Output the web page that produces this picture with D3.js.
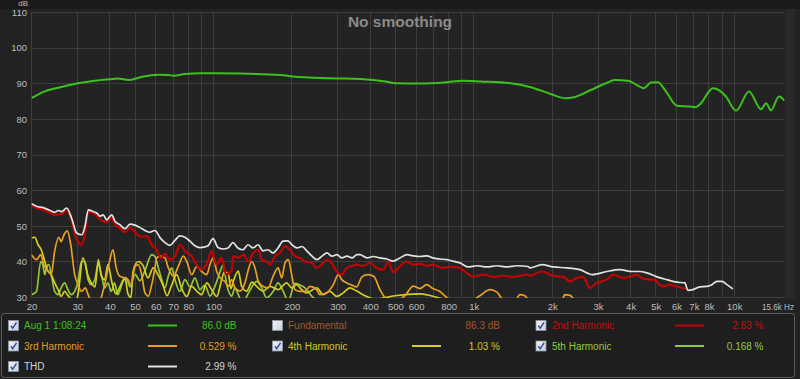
<!DOCTYPE html>
<html><head><meta charset="utf-8">
<script src="https://cdn.jsdelivr.net/npm/d3@7"></script>
<style>html,body{margin:0;padding:0;background:#222;overflow:hidden}svg{display:block;font-family:"Liberation Sans",Arial,sans-serif}</style>
</head><body><svg id="c" width="800" height="379"></svg>
<script>
// ---------- data (frequency Hz, level dB) ----------
const measurement = [[20,85.9],[22.5,87.8],[25.8,89.0],[30.2,90.1],[35.1,90.8],[40,91.2],[43,91.4],[47.3,91.0],[52.4,91.8],[61.3,92.5],[67,92.4],[70.6,92.2],[77.8,92.7],[89,92.9],[127,92.8],[181,92.4],[201,92.0],[281,91.5],[367,91.3],[458,90.6],[500,90.1],[624,90.0],[815,90.5],[906,90.8],[1062,90.6],[1385,90.1],[1653,89.0],[1973,87.1],[2254,85.9],[2398,86.1],[2813,88.2],[3213,90.1],[3480,91.0],[3903,90.8],[4379,89.0],[4500,88.7],[4785,90.3],[5093,90.4],[5467,87.8],[6029,83.8],[6700,83.6],[7129,83.4],[7450,84.5],[8280,88.7],[8730,88.2],[9290,86.4],[10160,82.4],[11400,87.8],[12680,82.8],[13250,84.5],[13840,82.5],[14860,86.4],[15600,85.2]];

const thd = [[20,56.3],[20.9,55.6],[22.2,55.2],[23.6,54.4],[24.6,53.9],[25.35,54.4],[26.1,54.1],[27.3,55.1],[28.5,52.3],[29.8,48.1],[31.2,47.6],[32.1,50.0],[33.05,54.6],[34.55,54.1],[35.6,53.7],[36.65,52.8],[37.7,53.2],[38.9,51.8],[40.65,53.2],[41.85,51.4],[43.7,50.4],[45.7,49.3],[47.8,50.6],[49.95,50.3],[52.2,49.6],[54.55,48.8],[57.0,48.3],[59.6,48.8],[62.3,46.8],[65.1,45.4],[68.0,44.6],[71.1,46.0],[74.3,47.3],[77.7,46.9],[81.2,45.8],[84.9,44.5],[88.7,44.0],[92.7,44.2],[95.3,44.5],[99.6,46.5],[104.1,44.0],[108.7,43.6],[113.7,43.9],[118.8,45.4],[124.1,43.9],[129.8,43.4],[135.7,44.8],[141.8,43.9],[148.3,44.8],[155,43.1],[162,43.4],[169.2,42.5],[176.9,43.9],[185,45.8],[193.2,45.9],[200.2,44.8],[209.2,43.9],[218.7,44.3],[228.6,43.0],[239,41.6],[249.7,40.6],[261,41.6],[272.8,42.5],[285.2,41.6],[298,42.0],[311.5,41.1],[325.5,41.6],[340.3,41.1],[355.7,42.0],[365.1,42.0],[388.5,41.1],[409.7,41.5],[435.8,41.1],[463.7,40.8],[489,40.2],[520,41.1],[553,42.0],[583.5,41.7],[620.5,41.5],[660.4,41.7],[696.4,41.1],[740.7,40.8],[788,40.6],[831,40.2],[884,39.7],[949,38.6],[1028,38.9],[1123,38.6],[1226,38.9],[1340,38.6],[1464,38.9],[1613,38.7],[1642,38.3],[1826,39.2],[2013,38.6],[2278,38.3],[2554,37.8],[2854,36.4],[3244,37.3],[3638,37.8],[4047,37.3],[4342,37.3],[4620,36.9],[5047,35.8],[5514,35.0],[6025,34.3],[6466,34.1],[6639,32.0],[6939,32.2],[7381,33.0],[7855,33.1],[8210,33.6],[8581,34.5],[8970,34.5],[9375,33.6],[9886,32.4]];

const harmonic2 = [[20,55.7],[20.9,55.1],[22.2,54.6],[23.6,53.7],[24.6,53.2],[26.1,53.5],[27.3,54.4],[28.5,51.8],[29.8,46.2],[31.2,44.8],[32.1,48.1],[33.05,54.1],[34.55,53.7],[36.65,52.0],[38.9,51.1],[40.65,52.6],[41.85,50.4],[43.7,49.5],[45.7,48.3],[47.8,49.6],[50.7,47.8],[53.0,47.0],[55.4,47.2],[57.9,44.8],[60.5,43.4],[62.9,41.0],[65.1,42.3],[68.0,40.6],[71.1,41.5],[74.3,44.8],[77.7,43.0],[82.5,41.5],[86.2,39.2],[90.1,37.8],[94.2,39.5],[98.4,43.0],[102.9,39.2],[107.5,41.1],[111.7,36.5],[117.4,37.5],[119.1,41.6],[124.5,41.1],[130.2,42.0],[136.1,40.1],[142.2,42.5],[148.7,43.4],[153.2,40.6],[160.1,40.1],[164.8,39.2],[172.2,41.6],[180.0,42.5],[188.2,44.4],[196.6,43.4],[205.5,41.6],[214.8,41.1],[224.5,40.1],[238.3,39.7],[249.0,38.3],[260.4,39.2],[272.1,40.6],[284.4,39.7],[297.3,37.3],[310.7,36.4],[324.7,38.3],[339.4,38.8],[354.7,39.2],[376,38.9],[398.9,39.7],[423.4,38.3],[448.8,37.8],[469,40.1],[490.2,37.1],[520,38.7],[551.9,40.1],[585,39.2],[620.5,39.5],[658.7,38.9],[698.2,39.2],[752,38.3],[809,38.6],[884,38.3],[938,36.9],[994.5,35.8],[1086,36.4],[1187,35.8],[1296,36.1],[1416,35.8],[1595,36.4],[1642,36.1],[1821,37.3],[2018,36.1],[2205,35.8],[2339,34.5],[2481,35.5],[2630,35.8],[2790,32.7],[2962,34.1],[3236,35.0],[3430,36.4],[3747,35.5],[3974,35.8],[4218,36.4],[4471,35.2],[4885,35.0],[5337,33.1],[5661,33.6],[6009,33.0],[6564,32.4]];

const harmonic3 = [[20,42.0],[20.9,40.6],[21.7,42.0],[22.3,39.2],[23.15,37.4],[23.8,36.4],[24.55,43.0],[25.44,46.9],[26.0,45.7],[26.66,47.6],[27.45,48.7],[28.3,44.8],[29.3,36.4],[30.2,33.6],[31.1,31.7],[32.2,32.7],[33.0,30.8],[34.0,28.9],[35.4,27.5],[36.65,29.0],[38.2,33.6],[39.9,40.2],[41.1,43.4],[42.3,38.3],[43.6,36.0],[45.6,35.5],[46.95,35.0],[48.2,33.5],[49.95,38.7],[51.4,39.2],[53.0,36.4],[54.55,31.3],[56.2,30.4],[57.9,33.6],[59.6,38.3],[60.5,41.1],[62.3,41.6],[65.1,41.1],[67.05,38.3],[70.1,36.0],[73.25,38.7],[76.6,41.6],[78.9,40.1],[82.5,36.4],[86.2,38.7],[90.1,37.3],[94.2,36.4],[96.9,39.2],[99.8,41.1],[102.9,37.3],[107.5,35.0],[110.6,34.5],[114,33.1],[117.4,35.0],[120.9,32.7],[126.3,31.8],[132.1,34.1],[136.1,37.8],[140.2,40.1],[144.3,38.3],[148.7,34.5],[155.2,33.1],[162.2,32.7],[169.5,36.0],[177.1,38.3],[182.8,35.5],[188.2,39.7],[193.8,40.6],[199.6,36.4],[205.5,32.2],[214.8,31.7],[224.5,31.7],[234.7,33.1],[249.0,32.2],[256.4,30.8],[272.1,31.3],[288.5,33.6],[301.5,36.4],[310.7,35.0],[324.7,34.1],[339.4,33.5],[354.7,33.0],[371.7,35.8],[392,36.4],[413.3,35.9],[435.8,32.2],[462.5,29.5],[497.6,29.0],[543.6,30.5],[585,33.2],[620.5,32.5],[658.7,33.6],[696.4,32.5],[740.7,31.7],[781,30.2],[831,29.0],[966,29.0],[1055,30.5],[1153,32.2],[1226,31.5],[1293,29.5],[1438,29.0],[1503,30.8],[1570,30.5],[1642,29.0],[2170,29.0],[2238,30.8],[2339,30.6],[2444,29.0]];

const harmonic4 = [[20,46.7],[20.6,46.9],[21.2,44.8],[21.8,43.4],[22.5,40.1],[23.0,37.8],[23.8,36.4],[24.55,34.1],[25.3,32.2],[26.0,30.3],[26.8,31.7],[27.45,30.8],[28.45,29.4],[29.4,28.5],[30.2,31.0],[31.5,41.1],[33.0,36.0],[34.0,34.0],[35.1,33.0],[36.1,40.6],[37.1,36.0],[38.2,35.0],[39.3,39.2],[40.8,34.0],[42.2,31.0],[43.7,33.0],[45.7,35.5],[46.95,31.0],[48.2,30.0],[49.1,37.4],[51.4,40.1],[53.6,39.0],[56.0,35.5],[58.7,38.3],[61.2,36.4],[64.2,33.1],[66.3,30.5],[68.7,33.0],[72.2,36.4],[75.5,32.5],[78.9,30.3],[82.5,33.1],[86.2,31.8],[90.1,30.8],[94.2,34.1],[98.4,32.2],[102.9,30.3],[107.5,35.0],[109.7,37.0],[113.7,37.0],[116.7,32.5],[119.1,34.5],[124.5,37.4],[128.3,33.2],[134.1,31.8],[140.5,34.3],[147,33.0],[155.2,31.8],[164.8,33.1],[177.1,32.2],[191,34.1],[199.6,32.7],[208.7,33.6],[218.1,32.2],[228,31.3],[249,32.7],[264,30.8],[280,31.7],[297.3,30.3],[315,31.3],[334,32.7],[354.7,31.8],[381.6,30.5],[417,29.5],[497.6,30.5],[620.5,31.0],[774,29.5],[884,29.0]];

const harmonic5 = [[20,30.8],[20.9,31.7],[21.7,40.1],[22.1,39.2],[22.5,36.4],[22.8,38.3],[23.3,39.2],[23.95,35.5],[24.55,31.7],[25.3,30.8],[26.0,32.7],[26.8,34.1],[27.6,32.2],[28.45,30.8],[29.3,31.7],[30.2,34.5],[31.1,40.1],[32.1,40.1],[33.0,35.0],[34.0,33.6],[35.0,35.0],[36.1,39.2],[37.1,36.4],[38.2,32.7],[39.3,34.1],[40.5,31.7],[41.7,34.1],[42.9,30.8],[44.9,34.5],[46.2,35.5],[47.8,33.0],[49.95,36.5],[52.2,34.7],[54.55,37.5],[57.9,42.0],[59.6,41.5],[61.4,38.3],[63.3,35.0],[65.1,32.7],[67.05,36.0],[69.1,38.3],[71.1,35.0],[74.3,31.7],[77.7,35.0],[81.2,33.0],[84.9,35.5],[88.7,32.2],[92.7,33.5],[96.9,30.4],[101.3,33.1],[105.8,37.0],[108.7,39.0],[112.9,33.0],[117.4,30.4],[120.9,32.7],[124.5,30.8],[129.2,28.5],[137.2,31.7],[146.5,34.5],[153.2,32.7],[160.1,29.9],[169.5,31.7],[177.1,34.1],[185.3,31.7],[193.8,29.0],[205.5,34.0],[214.8,33.5],[224.5,32.7],[238.3,30.4],[256.4,29.0],[306.5,29.5],[333,28.0]];

const yTicks = [30,40,50,60,70,80,90,100,110];
const xGridValues = [20,30,40,50,60,70,80,90,100,200,300,400,500,600,700,800,900,1000,2000,3000,4000,5000,6000,7000,8000,9000,10000];
const xTickValues = [20,30,40,50,60,70,80,100,200,300,400,500,600,800,1000,2000,3000,4000,5000,6000,7000,8000,10000];
const xTickLabels = ["20","30","40","50","60","70","80","100","200","300","400","500","600","800","1k","2k","3k","4k","5k","6k","7k","8k","10k"];
const xEndLabel = "15.6k Hz";
const yUnit = "dB";
const title = "No smoothing";

const legendLabels = ["Aug 1 1:08:24","Fundamental","2nd Harmonic","3rd Harmonic","4th Harmonic","5th Harmonic","THD"];
const legendValues = ["86.0 dB","86.3 dB","2.63 %","0.529 %","1.03 %","0.168 %","2.99 %"];
const legendChecked = [true,false,true,true,true,true,true];

// ---------- styles ----------
const textColors = ["#3cc21c","#a5562a","#c40c0c","#e39a26","#cfcb28","#97c746","#d4d4d4"];
const lineColors = ["#3cc21c",null,"#c00404","#e8a024","#d2cf22","#92c83a","#e2e2e2"];

const svg = d3.select("#c");
const W = 800, H = 379;
const x = d3.scaleLog().domain([20, 15600]).range([31.5, 784.5]);
const y = d3.scaleLinear().domain([30, 110]).range([297.5, 12.3]);

// backgrounds
svg.append("rect").attr("x",0).attr("y",0).attr("width",W).attr("height",H).attr("fill","#222222");
svg.append("rect").attr("x",0).attr("y",0).attr("width",W).attr("height",9).attr("fill","#1a1a1a");
svg.append("rect").attr("x",785).attr("y",9).attr("width",10).attr("height",290).attr("fill","#292929");
svg.append("rect").attr("x",31).attr("y",9).attr("width",754).attr("height",289).attr("fill","#232323");

// grid via axes
const xr = x.copy().rangeRound([31, 784]);
const yr = y.copy().rangeRound([297, 12]);
const gx = svg.append("g").attr("transform","translate(0,297)")
  .call(d3.axisBottom(xr).tickValues(xGridValues).tickSize(-285).tickFormat(""));
const gy = svg.append("g").attr("transform","translate(31,0)")
  .call(d3.axisLeft(yr).tickValues(yTicks).tickSize(-753).tickFormat(""));
[gx, gy].forEach(g => {
  g.select(".domain").remove();
  g.selectAll(".tick line").attr("stroke","#3d3d3d").attr("stroke-width",1);
});

// tick labels via axes
const lx = svg.append("g").attr("transform","translate(0,300)")
  .call(d3.axisBottom(x).tickValues(xTickValues).tickSize(0).tickPadding(3).tickFormat((d,i)=>xTickLabels[i]));
lx.select(".domain").remove();
lx.selectAll("text").attr("fill","#bdbdbd").attr("font-size","9.5px").attr("font-family","Liberation Sans, Arial, sans-serif");
svg.append("text").attr("x",762).attr("y",309.5).attr("fill","#bdbdbd").attr("font-size","9px")
  .attr("textLength",32).attr("lengthAdjust","spacingAndGlyphs").text(xEndLabel);

const ly = svg.append("g").attr("transform","translate(28,0)")
  .call(d3.axisLeft(y).tickValues(yTicks).tickSize(0).tickPadding(1).tickFormat(d3.format("d")));
ly.select(".domain").remove();
ly.selectAll("text").attr("fill","#bdbdbd").attr("font-size","9.5px").attr("font-family","Liberation Sans, Arial, sans-serif");
svg.append("text").attr("x",28).attr("y",5.5).attr("text-anchor","end").attr("fill","#bdbdbd").attr("font-size","8px").text(yUnit);

// title
svg.append("text").attr("x",400).attr("y",26.5).attr("text-anchor","middle")
  .attr("fill","#8a8a8a").attr("font-size","15.5px").attr("font-weight","bold").text(title);

// curves
svg.append("clipPath").attr("id","plotclip").append("rect")
  .attr("x",31.5).attr("y",11).attr("width",753).attr("height",287);
const plot = svg.append("g").attr("clip-path","url(#plotclip)");
const lineJag = d3.line().x(d=>x(d[0])).y(d=>y(d[1])).curve(d3.curveMonotoneX);
const lineSmooth = d3.line().x(d=>x(d[0])).y(d=>y(d[1])).curve(d3.curveMonotoneX);

const series = [
  {data: harmonic5, c: lineColors[5], w: 1.7},
  {data: harmonic4, c: lineColors[4], w: 1.7},
  {data: harmonic3, c: lineColors[3], w: 1.7},
  {data: harmonic2, c: lineColors[2], w: 2.2},
  {data: thd, c: lineColors[6], w: 1.7},
];
series.forEach(s => {
  plot.append("path").attr("d", lineJag(s.data)).attr("fill","none")
    .attr("stroke", s.c).attr("stroke-width", s.w).attr("stroke-linejoin","round");
});
plot.append("path").attr("d", lineSmooth(measurement)).attr("fill","none")
  .attr("stroke", lineColors[0]).attr("stroke-width", 2).attr("stroke-linejoin","round");

// legend
svg.append("rect").attr("x",1.5).attr("y",313.5).attr("width",793).attr("height",64).attr("rx",3)
  .attr("fill","#1e1e1e").attr("stroke","#5c5c5c");
const colBox = [8.5, 272.5, 536];
const colText = [24, 288, 552];
const colLine = [148, 412, 675];
const colVal = [236.5, 500, 763.5];
const rowY = [325.5, 346, 366.5];
const defs = svg.append("defs");
const grad = defs.append("linearGradient").attr("id","cbg").attr("x1",0).attr("y1",0).attr("x2",1).attr("y2",1);
grad.append("stop").attr("offset","0%").attr("stop-color","#f4f4f4");
grad.append("stop").attr("offset","100%").attr("stop-color","#c9d0dc");

legendLabels.forEach((lab, i) => {
  const col = i % 3, row = Math.floor(i / 3);
  const cy = rowY[row];
  const g = svg.append("g");
  g.append("rect").attr("x",colBox[col]).attr("y",cy-5).attr("width",10).attr("height",10)
    .attr("fill","url(#cbg)").attr("stroke","#8d97a8").attr("stroke-width",0.8);
  if (legendChecked[i]) {
    const bx = colBox[col], by = cy - 5;
    g.append("path").attr("d",`M${bx+2.3},${by+5.2} L${bx+4.2},${by+7.6} L${bx+8},${by+1.8}`)
      .attr("fill","none").attr("stroke","#3450a0").attr("stroke-width",1.5);
  }
  g.append("text").attr("x",colText[col]).attr("y",cy+3.6).attr("fill",textColors[i])
    .attr("font-size","10px").text(lab);
  if (lineColors[i]) {
    g.append("line").attr("x1",colLine[col]).attr("x2",colLine[col]+29).attr("y1",cy).attr("y2",cy)
      .attr("stroke",lineColors[i]).attr("stroke-width",2);
  }
  g.append("text").attr("x",colVal[col]).attr("y",cy+3.6).attr("text-anchor","end").attr("fill",textColors[i])
    .attr("font-size","10px").text(legendValues[i]);
});
</script></body></html>
